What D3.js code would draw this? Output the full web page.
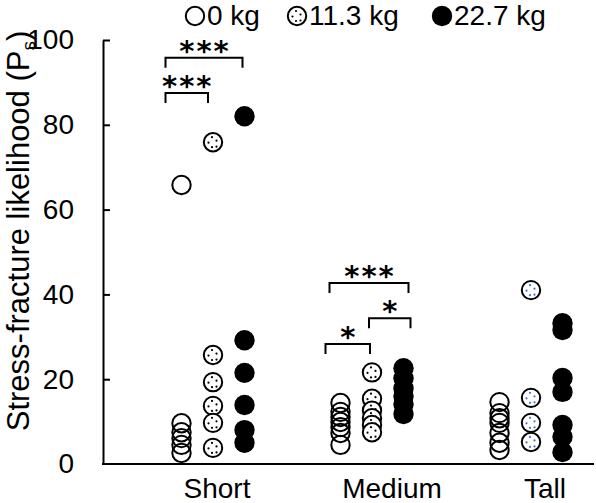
<!DOCTYPE html>
<html>
<head>
<meta charset="utf-8">
<script src="https://cdn.jsdelivr.net/npm/d3@7"></script>
<style>
  html, body { margin: 0; padding: 0; background: #fff; }
  svg { display: block; font-family: "Liberation Sans", Arial, sans-serif; }
</style>
</head>
<body>
<svg id="chart" width="596" height="503"></svg>
<script>
// ---------------- data ----------------
const categories = ["Short", "Medium", "Tall"];
const series = ["0 kg", "11.3 kg", "22.7 kg"];
const yTicks = [0, 20, 40, 60, 80, 100];

// Stress-fracture likelihood per subject, one list per height category
const load0kg = [
  [65.8, 9.6, 7.5, 6.1, 4.5, 2.6],
  [14.4, 12.3, 11.1, 9.9, 8.7, 7.3, 4.5],
  [14.6, 12.0, 10.8, 9.7, 7.3, 5.0, 3.3]
];
const load11kg = [
  [75.9, 25.7, 19.3, 13.7, 9.7, 3.8],
  [21.6, 15.4, 12.6, 10.8, 9.2, 7.5],
  [41.0, 15.6, 9.7, 5.2]
];
const load22kg = [
  [82.0, 29.2, 21.5, 13.9, 8.0, 5.0],
  [22.6, 20.2, 17.8, 16.0, 14.1, 11.8],
  [33.2, 31.6, 20.3, 17.0, 9.2, 6.4, 2.8]
];

// significance brackets: category, series indices, level (y units), label
const bracketCats = ["Short", "Short", "Medium", "Medium", "Medium"];
const bracketFrom = [0, 0, 0, 1, 0];
const bracketTo = [2, 1, 2, 2, 1];
const bracketLevel = [95.8, 87.5, 42.7, 34.4, 28.3];
const bracketLabel = ["***", "***", "***", "*", "*"];

// ---------------- layout ----------------
const svg = d3.select("#chart");
const plotLeft = 103, plotRight = 594, plotTop = 40, plotBottom = 464;
const R = 9.2;

const y = d3.scaleLinear().domain([0, 100]).range([plotBottom, plotTop]);
const x = d3.scalePoint().domain(categories).range([213, 531]);
const xs = d3.scalePoint().domain(series).range([-31.5, 31.5]);

const dotOffsets = [[-1, -5], [-4.5, 0.5], [3.5, -1.5], [3.5, 4.5], [-1, 5]];

function drawMarker(g, sIdx, cx, cy, dotColor) {
  if (sIdx === 2) {
    g.append("circle").attr("cx", cx).attr("cy", cy).attr("r", R + 1)
      .attr("fill", "#000");
  } else {
    g.append("circle").attr("cx", cx).attr("cy", cy).attr("r", R)
      .attr("fill", "#fff").attr("fill-opacity", sIdx === 0 ? 0 : 1)
      .attr("stroke", "#000").attr("stroke-width", 2);
    if (sIdx === 1) {
      dotOffsets.forEach(([dx, dy]) => {
        g.append("circle").attr("cx", cx + dx).attr("cy", cy + dy).attr("r", 1.1)
          .attr("fill", dotColor);
      });
    }
  }
}

// axes
const yAxis = d3.axisLeft(y).tickValues(yTicks).tickSize(-7).tickPadding(29).tickSizeOuter(0);
const gy = svg.append("g").attr("transform", `translate(${plotLeft},0)`).call(yAxis);
gy.select(".domain").attr("stroke", "#000").attr("stroke-width", 2);
gy.selectAll(".tick line").attr("stroke", "#000").attr("stroke-width", 2)
  .filter(d => d === 0).remove();
gy.selectAll(".tick text").attr("font-size", 28).attr("fill", "#000")
  .attr("font-family", "Liberation Sans, Arial, sans-serif");

svg.append("line").attr("x1", plotLeft - 1).attr("x2", plotRight).attr("y1", y(0)).attr("y2", y(0))
  .attr("stroke", "#000").attr("stroke-width", 2);

// category labels
const labelShift = { Short: 4, Medium: 20, Tall: 14 };
svg.append("g").selectAll("text").data(categories).join("text")
  .attr("x", d => x(d) + labelShift[d]).attr("y", 498)
  .attr("text-anchor", "middle").attr("font-size", 28).attr("fill", "#000")
  .text(d => d);

// y title
const title = svg.append("text")
  .attr("transform", "translate(29,231) rotate(-90)")
  .attr("text-anchor", "middle").attr("font-size", 31).attr("fill", "#000");
title.append("tspan").text("Stress-fracture likelihood (P");
title.append("tspan").attr("font-size", 19).attr("dy", 6).text("s");
title.append("tspan").attr("dy", -6).text(")");

// points
const allSeries = [load0kg, load11kg, load22kg];
const pts = svg.append("g");
allSeries.forEach((arr, sIdx) => {
  arr.forEach((vals, cIdx) => {
    const cat = categories[cIdx];
    const cx = x(cat) + xs(series[sIdx]);
    const dotColor = cat === "Tall" ? "#4472C4" : "#000";
    vals.forEach(v => drawMarker(pts, sIdx, cx, y(v), dotColor));
  });
});

// brackets
const bshift1 = [-16, -16, -11, -3, -15];
const bshift2 = [-2, -5, 5, 7, -2];
const bg = svg.append("g");
bracketCats.forEach((cat, i) => {
  const x1 = x(cat) + xs(series[bracketFrom[i]]) + bshift1[i];
  const x2 = x(cat) + xs(series[bracketTo[i]]) + bshift2[i];
  const ly = y(bracketLevel[i]);
  bg.append("path")
    .attr("d", `M${x1},${ly + 10}V${ly}H${x2}V${ly + 10}`)
    .attr("fill", "none").attr("stroke", "#000").attr("stroke-width", 2);
  bg.append("text").attr("x", (x1 + x2) / 2 + 1).attr("y", ly + 3)
    .attr("text-anchor", "middle").attr("font-size", 29).attr("font-weight", "bold")
    .attr("letter-spacing", 2)
    .attr("font-family", "DejaVu Sans, sans-serif")
    .attr("fill", "#000").text(bracketLabel[i]);
});

// legend
const legX = [195, 297, 442];
const lg = svg.append("g");
series.forEach((s, i) => {
  drawMarker(lg, i, legX[i], 16, "#000");
  lg.append("text").attr("x", legX[i] + 12).attr("y", 25)
    .attr("font-size", 28).attr("fill", "#000").text(s);
});
</script>
</body>
</html>
